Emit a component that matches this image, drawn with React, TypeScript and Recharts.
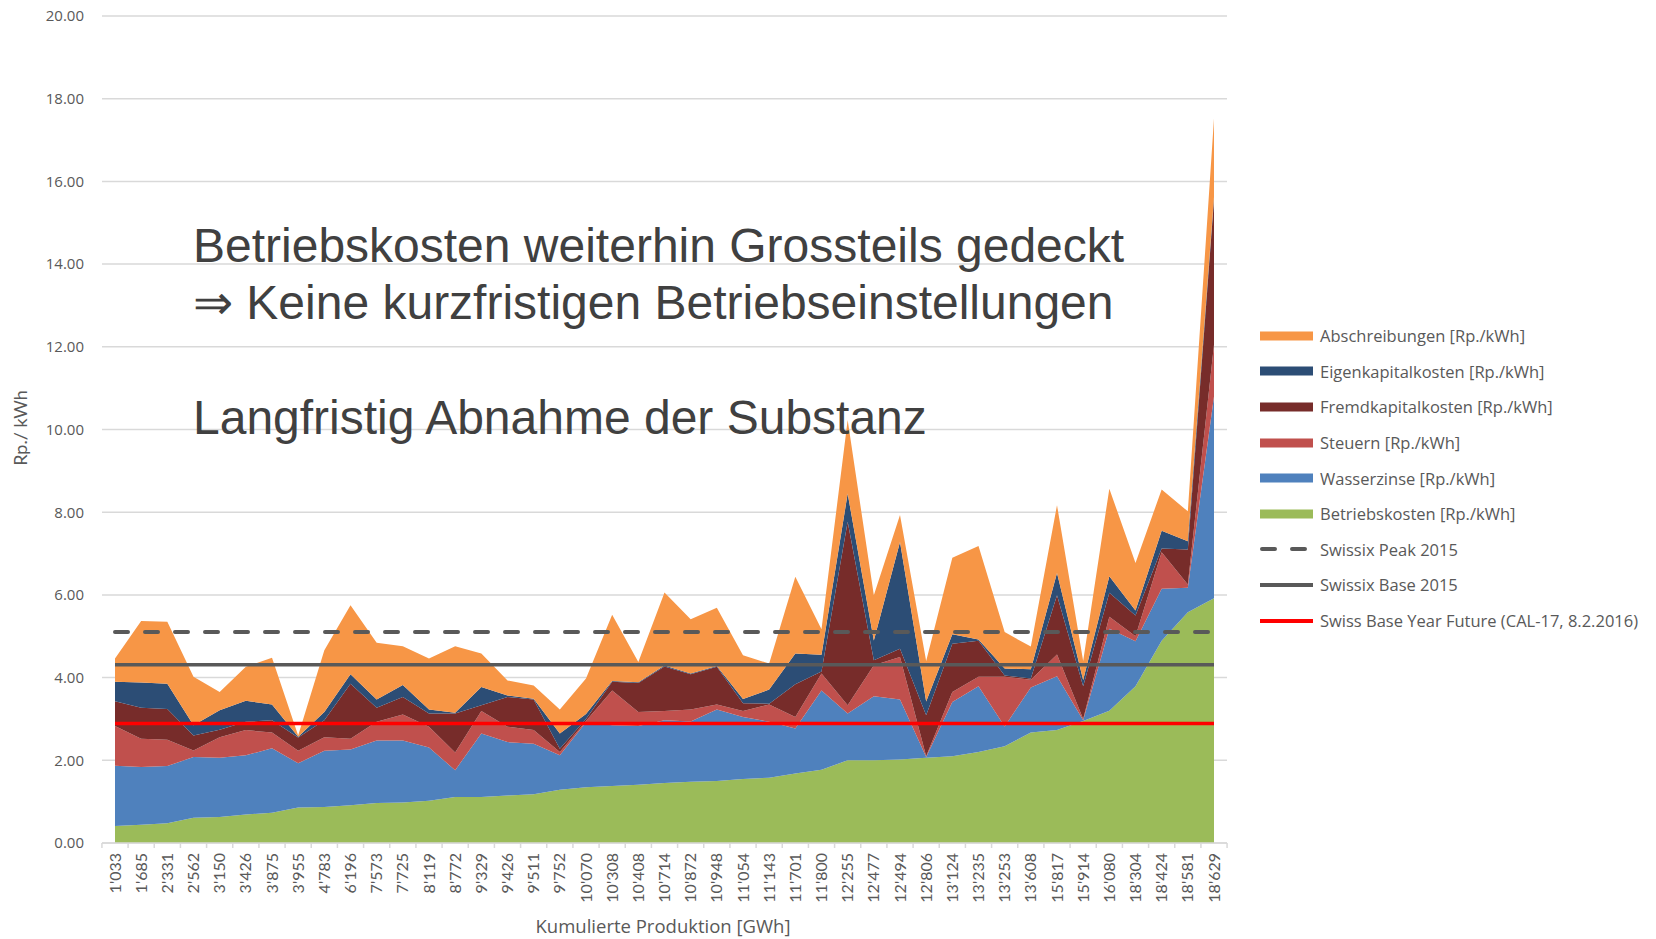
import React from "react";
import {
  ComposedChart,
  Area,
  Line,
  XAxis,
  YAxis,
  CartesianGrid,
  Legend,
} from "recharts";

// Kumulierte Produktion [GWh] — one category per plant group
const CATEGORIES = [
  "1'033", "1'685", "2'331", "2'562", "3'150", "3'426", "3'875", "3'955", "4'783", "6'196",
  "7'573", "7'725", "8'119", "8'772", "9'329", "9'426", "9'511", "9'752", "10'070", "10'308",
  "10'408", "10'714", "10'872", "10'948", "11'054", "11'143", "11'701", "11'800", "12'255", "12'477",
  "12'494", "12'806", "13'124", "13'235", "13'253", "13'608", "15'817", "15'914", "16'080", "18'304",
  "18'424", "18'581", "18'629",
];

// stacked cost components [Rp./kWh], bottom to top
const BETRIEBSKOSTEN = [
  0.41, 0.44, 0.48, 0.61, 0.63, 0.69, 0.73, 0.86, 0.87, 0.91,
  0.97, 0.98, 1.02, 1.11, 1.11, 1.15, 1.18, 1.29, 1.35, 1.38,
  1.41, 1.45, 1.48, 1.5, 1.55, 1.58, 1.68, 1.77, 2.0, 2.0,
  2.02, 2.06, 2.1, 2.2, 2.34, 2.67, 2.73, 2.95, 3.2, 3.79,
  4.89, 5.58, 5.92,
];
const WASSERZINSE = [
  1.46, 1.4, 1.38, 1.47, 1.43, 1.43, 1.56, 1.07, 1.36, 1.35,
  1.51, 1.5, 1.29, 0.65, 1.54, 1.29, 1.22, 0.83, 1.57, 1.47,
  1.42, 1.52, 1.46, 1.73, 1.5, 1.35, 1.09, 1.92, 1.13, 1.55,
  1.45, 0.02, 1.31, 1.59, 0.48, 1.09, 1.3, 0.02, 1.98, 1.09,
  1.26, 0.59, 4.88,
];
const STEUERN = [
  0.96, 0.68, 0.64, 0.16, 0.5, 0.61, 0.38, 0.3, 0.33, 0.26,
  0.45, 0.63, 0.5, 0.43, 0.54, 0.37, 0.33, 0.08, 0.03, 0.84,
  0.34, 0.22, 0.29, 0.12, 0.14, 0.42, 0.28, 0.41, 0.2, 0.75,
  1.03, 0.02, 0.24, 0.23, 1.2, 0.19, 0.53, 0.03, 0.29, 0.12,
  0.88, 0.08, 1.25,
];
const FREMDKAPITAL = [
  0.6, 0.75, 0.74, 0.36, 0.18, 0.2, 0.3, 0.32, 0.41, 1.33,
  0.34, 0.42, 0.32, 0.94, 0.14, 0.72, 0.74, 0.08, 0.05, 0.21,
  0.7, 1.08, 0.85, 0.91, 0.19, 0.02, 0.79, 0.05, 4.44, 0.12,
  0.2, 0.99, 1.17, 0.87, 0.03, 0.03, 1.43, 0.79, 0.58, 0.5,
  0.09, 0.85, 3.5,
];
const EIGENKAPITAL = [
  0.47, 0.61, 0.61, 0.25, 0.47, 0.51, 0.38, 0.02, 0.2, 0.23,
  0.2, 0.29, 0.1, 0.02, 0.44, 0.04, 0.02, 0.37, 0.12, 0.02,
  0.02, 0.02, 0.02, 0.02, 0.1, 0.34, 0.74, 0.4, 0.68, 0.48,
  2.58, 0.33, 0.23, 0.03, 0.17, 0.22, 0.54, 0.15, 0.4, 0.12,
  0.43, 0.2, 0.07,
];
const ABSCHREIBUNGEN = [
  0.56, 1.49, 1.5, 1.17, 0.44, 0.82, 1.13, 0.03, 1.49, 1.67,
  1.37, 0.94, 1.23, 1.61, 0.81, 0.36, 0.32, 0.58, 0.86, 1.6,
  0.49, 1.77, 1.31, 1.41, 1.06, 0.63, 1.86, 0.62, 1.78, 1.09,
  0.65, 0.98, 1.85, 2.26, 0.88, 0.55, 1.64, 0.46, 2.12, 1.15,
  1.0, 0.72, 1.9,
];

// price levels [Rp./kWh]
const SWISSIX_PEAK_2015 = 5.1;
const SWISSIX_BASE_2015 = 4.31;
const SWISS_BASE_FUTURE = 2.89;

const Y_TICKS = [0, 2, 4, 6, 8, 10, 12, 14, 16, 18, 20];

const AREAS = [
  { key: "betrieb", name: "Betriebskosten  [Rp./kWh]", color: "#9BBB59" },
  { key: "wasser", name: "Wasserzinse [Rp./kWh]", color: "#4F81BD" },
  { key: "steuern", name: "Steuern [Rp./kWh]", color: "#C0504D" },
  { key: "fremd", name: "Fremdkapitalkosten [Rp./kWh]", color: "#772C2A" },
  { key: "eigen", name: "Eigenkapitalkosten [Rp./kWh]", color: "#2C4D75" },
  { key: "abschr", name: "Abschreibungen [Rp./kWh]", color: "#F79646" },
];

const LINES = [
  { key: "peak", name: "Swissix Peak 2015", color: "#595959", dash: "13 17", width: 4 },
  { key: "base", name: "Swissix Base 2015", color: "#595959", dash: undefined, width: 3.5 },
  { key: "future", name: "Swiss Base Year Future (CAL-17, 8.2.2016)", color: "#FF0000", dash: undefined, width: 3.5 },
];

const data = CATEGORIES.map((cat, i) => ({
  cat,
  betrieb: BETRIEBSKOSTEN[i],
  wasser: WASSERZINSE[i],
  steuern: STEUERN[i],
  fremd: FREMDKAPITAL[i],
  eigen: EIGENKAPITAL[i],
  abschr: ABSCHREIBUNGEN[i],
  peak: SWISSIX_PEAK_2015,
  base: SWISSIX_BASE_2015,
  future: SWISS_BASE_FUTURE,
}));

const FONT = "Lato, 'Open Sans', sans-serif";
const WIDE_FONT = "'Open Sans', Lato, sans-serif";
const TEXT_GREY = "#595959";
const HALF_BAND = 13.08;

const XTick = (props: any) => {
  const { x, y, payload, index } = props;
  const last = index === CATEGORIES.length - 1;
  return (
    <g>
      <line x1={x - HALF_BAND} x2={x - HALF_BAND} y1={y} y2={y + 5} stroke="#d9d9d9" strokeWidth={1.5} />
      {last && (
        <line x1={x + HALF_BAND} x2={x + HALF_BAND} y1={y} y2={y + 5} stroke="#d9d9d9" strokeWidth={1.5} />
      )}
      <text
        x={x}
        y={y + 10}
        transform={`rotate(-90 ${x} ${y + 10})`}
        textAnchor="end"
        dy="0.35em"
        fontFamily={FONT}
        fontSize={16}
        fill={TEXT_GREY}
      >
        {payload.value}
      </text>
    </g>
  );
};

const legendRows = [...AREAS].reverse().map((a) => ({ ...a, kind: "area" as const }))
  .concat(LINES.map((l) => ({ ...l, kind: "line" as const })) as any);

const renderLegend = () => (
  <div style={{ fontFamily: WIDE_FONT, fontSize: 16.5, color: TEXT_GREY }}>
    {legendRows.map((r: any) => (
      <div key={r.key} style={{ display: "flex", alignItems: "center", height: 35.6 }}>
        <svg width={60} height={12} style={{ flex: "none" }}>
          {r.kind === "area" ? (
            <rect x={0} y={1.5} width={53} height={9} fill={r.color} />
          ) : (
            <line
              x1={r.dash ? 2 : 0}
              x2={r.dash ? 51 : 53}
              y1={6}
              y2={6}
              stroke={r.color}
              strokeWidth={4}
              strokeDasharray={r.dash}
              strokeLinecap={r.dash ? "round" : "butt"}
            />
          )}
        </svg>
        <span style={{ whiteSpace: "nowrap" }}>{r.name}</span>
      </div>
    ))}
  </div>
);

export default function App() {
  return (
    <div style={{ position: "absolute", left: 0, top: 0, width: 1656, height: 939, background: "#fff" }}>
      <ComposedChart
        width={1656}
        height={939}
        data={data}
        margin={{ top: 16, right: 429, bottom: 0, left: 0 }}
      >
        <CartesianGrid vertical={false} stroke="#d9d9d9" strokeWidth={1.5} />
        <XAxis
          dataKey="cat"
          interval={0}
          height={96}
          padding={{ left: 13, right: 13 }}
          axisLine={{ stroke: "#d9d9d9", strokeWidth: 1.5 }}
          tickLine={false}
          tickSize={0}
          tickMargin={0}
          tick={<XTick />}
        />
        <YAxis
          width={102}
          domain={[0, 20]}
          ticks={Y_TICKS}
          interval={0}
          axisLine={false}
          tickLine={false}
          tickSize={0}
          tickMargin={18}
          tickFormatter={(v: number) => v.toFixed(2)}
          tick={{ fontFamily: WIDE_FONT, fontSize: 15, fill: TEXT_GREY }}
        />
        {AREAS.map((a) => (
          <Area
            key={a.key}
            type="linear"
            dataKey={a.key}
            name={a.name}
            stackId="kosten"
            fill={a.color}
            fillOpacity={1}
            stroke="none"
            isAnimationActive={false}
          />
        ))}
        {LINES.map((l) => (
          <Line
            key={l.key}
            type="linear"
            dataKey={l.key}
            name={l.name}
            stroke={l.color}
            strokeWidth={l.width}
            strokeDasharray={l.dash}
            strokeLinecap={l.dash ? "round" : "butt"}
            dot={false}
            activeDot={false}
            isAnimationActive={false}
          />
        ))}
        <Legend
          layout="horizontal"
          verticalAlign="middle"
          align="center"
          content={renderLegend}
          wrapperStyle={{ left: 1260, top: 318, width: 396, height: 322 }}
        />
      </ComposedChart>
      <svg
        width={1656}
        height={939}
        style={{ position: "absolute", left: 0, top: 0, pointerEvents: "none" }}
      >
        <g fontFamily="'Liberation Sans', Arial, sans-serif" fontSize={48} fill="#404040">
          <text x={193} y={262}>Betriebskosten weiterhin Grossteils gedeckt</text>
          <text x={193} y={319}>⇒ Keine kurzfristigen Betriebseinstellungen</text>
          <text x={193} y={434}>Langfristig Abnahme der Substanz</text>
        </g>
        <text
          x={663}
          y={933}
          textAnchor="middle"
          fontFamily={WIDE_FONT}
          fontSize={18.5}
          fill={TEXT_GREY}
        >
          Kumulierte Produktion [GWh]
        </text>
        <text
          x={21}
          y={428}
          transform="rotate(-90 21 428)"
          textAnchor="middle"
          dy="0.35em"
          fontFamily={FONT}
          fontSize={18}
          fill={TEXT_GREY}
        >
          Rp./ kWh
        </text>
      </svg>
    </div>
  );
}
